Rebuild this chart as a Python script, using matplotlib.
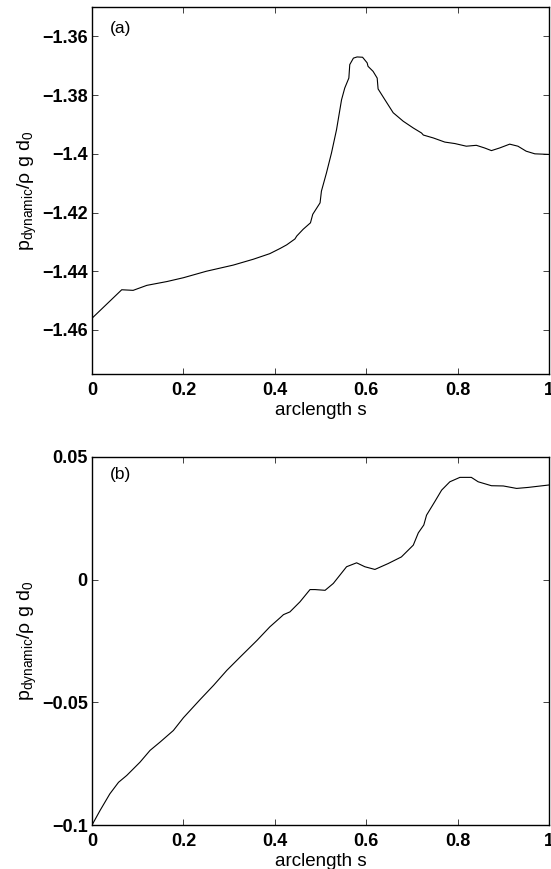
import matplotlib.pyplot as plt
import numpy as np

plt.rcParams['font.family'] = ['Liberation Sans', 'DejaVu Sans']

# panel (a): dynamic pressure along the arclength
S_A = [0.0, 0.065, 0.090, 0.120, 0.164, 0.200, 0.250, 0.309, 0.353, 0.389,
       0.412, 0.426, 0.444, 0.448, 0.462, 0.478, 0.483, 0.499, 0.502, 0.513,
       0.524, 0.535, 0.546, 0.553, 0.562, 0.564, 0.572, 0.580, 0.592, 0.602,
       0.604, 0.615, 0.624, 0.626, 0.641, 0.659, 0.681, 0.703, 0.721, 0.725,
       0.747, 0.772, 0.794, 0.819, 0.841, 0.859, 0.874, 0.892, 0.914, 0.932,
       0.950, 0.969, 1.0]
P_A = [-1.4560, -1.4463, -1.4465, -1.4448, -1.4435, -1.4422, -1.4400, -1.4379,
       -1.4359, -1.4340, -1.4322, -1.4310, -1.4290, -1.4280, -1.4257, -1.4235,
       -1.4206, -1.4167, -1.4127, -1.4065, -1.3997, -1.3918, -1.3816, -1.3776,
       -1.3742, -1.3696, -1.3674, -1.3670, -1.3671, -1.3690, -1.3702, -1.3719,
       -1.3742, -1.3779, -1.3816, -1.3860, -1.3889, -1.3912, -1.3929, -1.3936,
       -1.3946, -1.3960, -1.3965, -1.3974, -1.3971, -1.3980, -1.3989, -1.3980,
       -1.3967, -1.3974, -1.3991, -1.4000, -1.4002]

# panel (b)
S_B = [0.0, 0.0175, 0.039, 0.058, 0.076, 0.105, 0.127, 0.149, 0.178, 0.200,
       0.236, 0.266, 0.295, 0.324, 0.361, 0.389, 0.412, 0.419, 0.433, 0.455,
       0.477, 0.488, 0.510, 0.528, 0.557, 0.579, 0.597, 0.619, 0.648, 0.677,
       0.703, 0.714, 0.726, 0.732, 0.750, 0.765, 0.783, 0.805, 0.830, 0.845,
       0.874, 0.900, 0.929, 0.954, 1.0]
P_B = [-0.1000, -0.0941, -0.0873, -0.0826, -0.0798, -0.0744, -0.0696, -0.0662,
       -0.0615, -0.0563, -0.0490, -0.0431, -0.0370, -0.0316, -0.0248, -0.0193,
       -0.0155, -0.0143, -0.0132, -0.0091, -0.0041, -0.0041, -0.0044, -0.0016,
       0.0052, 0.0068, 0.0052, 0.0041, 0.0065, 0.0092, 0.0140, 0.0190, 0.0222,
       0.0262, 0.0317, 0.0364, 0.0398, 0.0416, 0.0416, 0.0398, 0.0382, 0.0381,
       0.0371, 0.0375, 0.0385]

X_TICKS = [0, 0.2, 0.4, 0.6, 0.8, 1]
X_TICKLABELS = ['0', '0.2', '0.4', '0.6', '0.8', '1']
Y_TICKS_A = [-1.46, -1.44, -1.42, -1.40, -1.38, -1.36]
Y_TICKLABELS_A = ['\u22121.46', '\u22121.44', '\u22121.42', '\u22121.4', '\u22121.38', '\u22121.36']
Y_TICKS_B = [-0.1, -0.05, 0, 0.05]
Y_TICKLABELS_B = ['\u22120.1', '\u22120.05', '0', '0.05']

YLABEL = r'p$_{\mathregular{dynamic}}$/$\mathregular{\rho}$ g d$_{\mathregular{0}}$'

fig = plt.figure(figsize=(5.51, 8.69), dpi=100)
ax_a = fig.add_axes([0.167, 0.5696, 0.8294, 0.4223])
ax_b = fig.add_axes([0.167, 0.0506, 0.8294, 0.4238])

panels = [
    (ax_a, S_A, P_A, Y_TICKS_A, Y_TICKLABELS_A, (-1.475, -1.35), '(a)', 0.963),
    (ax_b, S_B, P_B, Y_TICKS_B, Y_TICKLABELS_B, (-0.1, 0.05), '(b)', 0.972),
]

for ax, s, p, yt, ytl, ylim, tag, ty in panels:
    ax.plot(s, p, color='black', lw=0.8)
    ax.set_xlim(0, 1)
    ax.set_ylim(*ylim)
    ax.set_xticks(X_TICKS)
    ax.set_xticklabels(X_TICKLABELS, fontweight='bold', fontsize=13)
    ax.set_yticks(yt)
    ax.set_yticklabels(ytl, fontweight='bold', fontsize=13)
    ax.tick_params(direction='in', top=True, right=True, length=4.5,
                   width=0.6, colors='#222222', labelcolor='black')
    ax.tick_params(axis='x', pad=6)
    ax.tick_params(axis='y', pad=3)
    for sp in ax.spines.values():
        sp.set_linewidth(1.0)
    ax.set_xlabel('arclength s', fontsize=13.5, labelpad=2)
    ax.set_ylabel(YLABEL, fontsize=14, labelpad=2)
    ax.text(0.04, ty, tag, transform=ax.transAxes, fontsize=12.5,
            ha='left', va='top')

fig.savefig('out.png', dpi=100)
